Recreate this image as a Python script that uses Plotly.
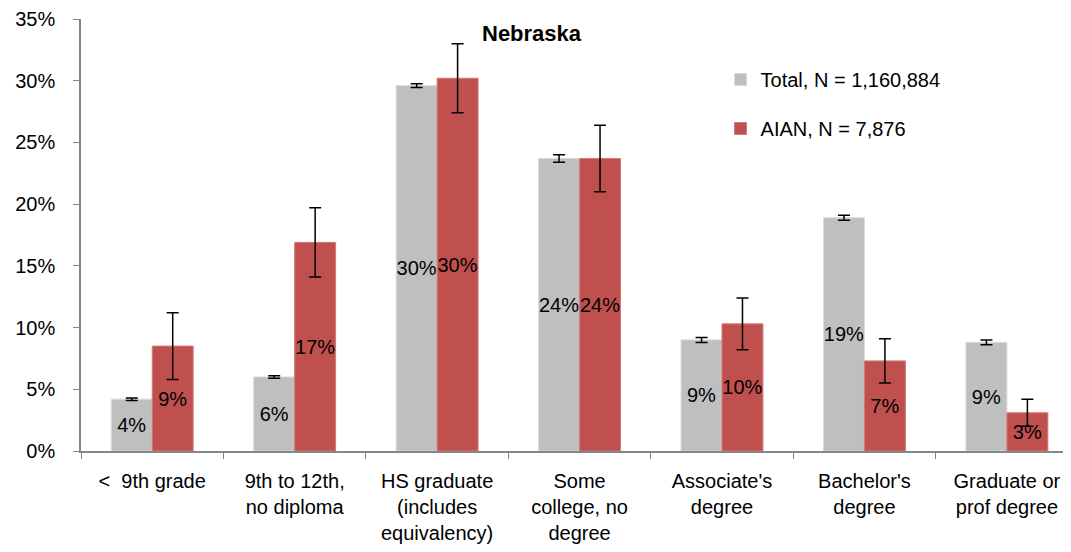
"""
Educational attainment, Nebraska: Total vs AIAN
"""

import plotly.graph_objects as go

categories = [
    '<\u00a0 9th grade',
    '9th to 12th,<br>no diploma',
    'HS graduate<br>(includes<br>equivalency)',
    'Some<br>college, no<br>degree',
    "Associate's<br>degree",
    "Bachelor's<br>degree",
    'Graduate or<br>prof degree',
]

total_pct = [4.2, 6.0, 29.6, 23.7, 9.0, 18.9, 8.8]
total_err = [0.1, 0.1, 0.15, 0.3, 0.2, 0.2, 0.2]
aian_pct = [8.5, 16.9, 30.2, 23.7, 10.3, 7.3, 3.1]
aian_err = [2.7, 2.8, 2.8, 2.7, 2.1, 1.8, 1.1]

total_name = 'Total, N = 1,160,884'
aian_name = 'AIAN, N = 7,876'

FONT = 'Liberation Sans, Arial, sans-serif'
FS = 20


def pct_label(v):
    # round half up, like Excel does
    return '%d%%' % int(v + 0.5)


fig = go.Figure()

fig.add_trace(go.Bar(
    x=categories,
    y=total_pct,
    name=total_name,
    legendgroup='total',
    marker=dict(color='#BFBFBF', line=dict(color='#D9D9D9', width=1)),
    error_y=dict(type='data', array=total_err, color='black', thickness=1.5, width=6),
    text=[pct_label(v) for v in total_pct],
    textposition='inside',
    insidetextanchor='middle',
    textangle=0,
    constraintext='none',
    textfont=dict(color='black', size=FS, family=FONT),
))

fig.add_trace(go.Bar(
    x=categories,
    y=aian_pct,
    name=aian_name,
    legendgroup='aian',
    marker=dict(color='#C0504D', line=dict(color='#D47A77', width=1)),
    error_y=dict(type='data', array=aian_err, color='black', thickness=1.5, width=6),
    text=[pct_label(v) for v in aian_pct],
    textposition='inside',
    insidetextanchor='middle',
    textangle=0,
    constraintext='none',
    textfont=dict(color='black', size=FS, family=FONT),
))

# page body adds 8px around the figure, so the figure is a bit smaller
fig.update_layout(
    width=1063,
    height=544,
    margin=dict(l=73, r=0, t=11, b=101),
    plot_bgcolor='white',
    paper_bgcolor='white',
    font=dict(family=FONT, size=FS, color='black'),
    barmode='group',
    bargap=0.425,
    bargroupgap=0,
    showlegend=True,
    legend=dict(
        x=0.646, y=0.905, xanchor='left', yanchor='top',
        font=dict(size=FS),
        traceorder='grouped',
        tracegroupgap=20,
        bgcolor='rgba(0,0,0,0)',
    ),
    annotations=[dict(
        text='<b>Nebraska</b>', x=0.456, y=(451 - 33) / 432, xref='paper', yref='paper',
        yanchor='middle', showarrow=False, font=dict(size=22),
    )],
)

fig.update_xaxes(
    automargin=False,
    range=[-0.5, 6.45],  # right side of the original chart is cut off by the frame
    showline=True, linecolor='#868686', linewidth=1.5,
    ticks='outside', tickson='boundaries', ticklen=6, tickcolor='#868686',
    ticklabelstandoff=11,
    showgrid=False,
)
fig.update_yaxes(
    automargin=False,
    range=[0, 35], dtick=5, ticksuffix='%',
    showline=True, linecolor='#868686', linewidth=1.5,
    ticks='outside', ticklen=6, tickcolor='#868686',
    ticklabelstandoff=14,
    showgrid=False, zeroline=False,
)

fig.write_html("out.html")
